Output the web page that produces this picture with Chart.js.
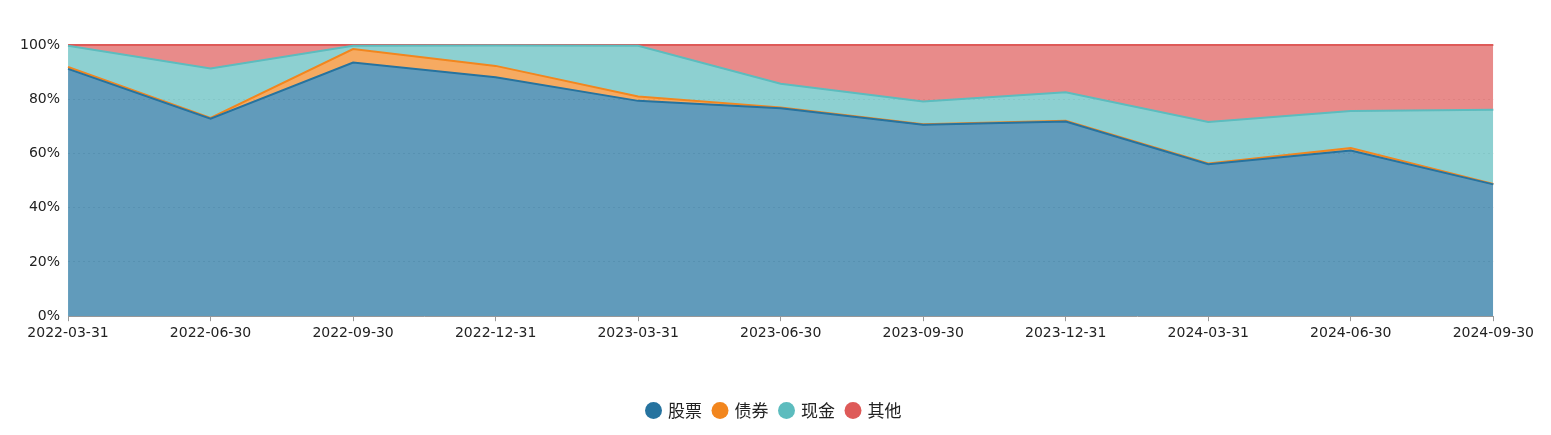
<!DOCTYPE html>
<html>
<head>
<meta charset="utf-8">
<script src="https://cdn.jsdelivr.net/npm/chart.js@4"></script>
<style>
  html, body { margin: 0; padding: 0; background: #fff; }
  #wrap { width: 1551px; height: 435px; }
</style>
</head>
<body>
<div id="wrap"><canvas id="assetChart"></canvas></div>
<script>
const dates = ["2022-03-31", "2022-06-30", "2022-09-30", "2022-12-31", "2023-03-31", "2023-06-30",
  "2023-09-30", "2023-12-31", "2024-03-31", "2024-06-30", "2024-09-30"];
const stock = [91.2, 72.8, 93.5, 88.1, 79.4, 76.7, 70.6, 71.8, 56.0, 61.1, 48.6];
const bond  = [0.7, 0.3, 5.0, 4.2, 1.6, 0.3, 0.2, 0.3, 0.3, 0.9, 0.2];
const cash  = [7.8, 18.2, 1.2, 7.5, 18.7, 8.7, 8.4, 10.5, 15.3, 13.7, 27.3];
const other = [0.3, 8.7, 0.3, 0.2, 0.3, 14.3, 20.8, 17.4, 28.4, 24.3, 23.9];
const yTicks = [0, 20, 40, 60, 80, 100];

const tickFont = '"DejaVu Sans", "Noto Sans CJK SC", sans-serif';
const legendFont = '"Noto Sans CJK SC", sans-serif';

function series(label, data, line, fillColor, fill) {
  return {
    label: label,
    data: data,
    borderColor: line,
    backgroundColor: fillColor,
    borderWidth: 2,
    pointRadius: 0,
    pointHoverRadius: 0,
    tension: 0,
    clip: 3,
    fill: fill
  };
}

new Chart(document.getElementById("assetChart"), {
  type: "line",
  data: {
    labels: dates,
    datasets: [
      series("股票", stock, "#26739f", "rgba(30,113,158,0.7)", "origin"),
      series("债券", bond, "#f2861e", "rgba(242,134,30,0.7)", "-1"),
      series("现金", cash, "#5cbcbe", "rgba(92,188,190,0.7)", "-1"),
      series("其他", other, "#de5a58", "rgba(222,90,88,0.7)", "-1")
    ]
  },
  options: {
    responsive: true,
    maintainAspectRatio: false,
    animation: false,
    layout: { padding: { top: 45, right: 14, left: 12, bottom: 6 } },
    plugins: {
      tooltip: { enabled: false },
      legend: {
        position: "bottom",
        labels: {
          usePointStyle: true,
          pointStyle: "circle",
          boxWidth: 12,
          boxHeight: 12,
          padding: 12,
          color: "#222",
          font: { family: legendFont, size: 17 },
          generateLabels: chart => chart.data.datasets.map((ds, i) => ({
            text: ds.label,
            fillStyle: ds.borderColor,
            strokeStyle: ds.borderColor,
            lineWidth: 0,
            pointStyle: "circle",
            fontColor: "#222",
            hidden: false,
            datasetIndex: i
          }))
        }
      }
    },
    scales: {
      x: {
        offset: false,
        grid: { drawOnChartArea: false, drawTicks: true, tickLength: 5, color: "#999" },
        border: { color: "#999" },
        ticks: { color: "#222", font: { family: tickFont, size: 14 }, maxRotation: 0, autoSkip: false, padding: 4 },
        afterFit: scale => {
          scale.height += 44;
          scale.paddingRight += 13;
        }
      },
      y: {
        stacked: true,
        min: 0,
        max: 100,
        afterBuildTicks: scale => { scale.ticks = yTicks.map(v => ({ value: v })); },
        grid: { color: "rgba(120,120,120,0.25)", drawTicks: false },
        border: { display: false, dash: [2, 3] },
        ticks: {
          color: "#222",
          padding: 8,
          font: { family: tickFont, size: 14 },
          callback: v => v + "%"
        }
      }
    }
  }
});
</script>
</body>
</html>
